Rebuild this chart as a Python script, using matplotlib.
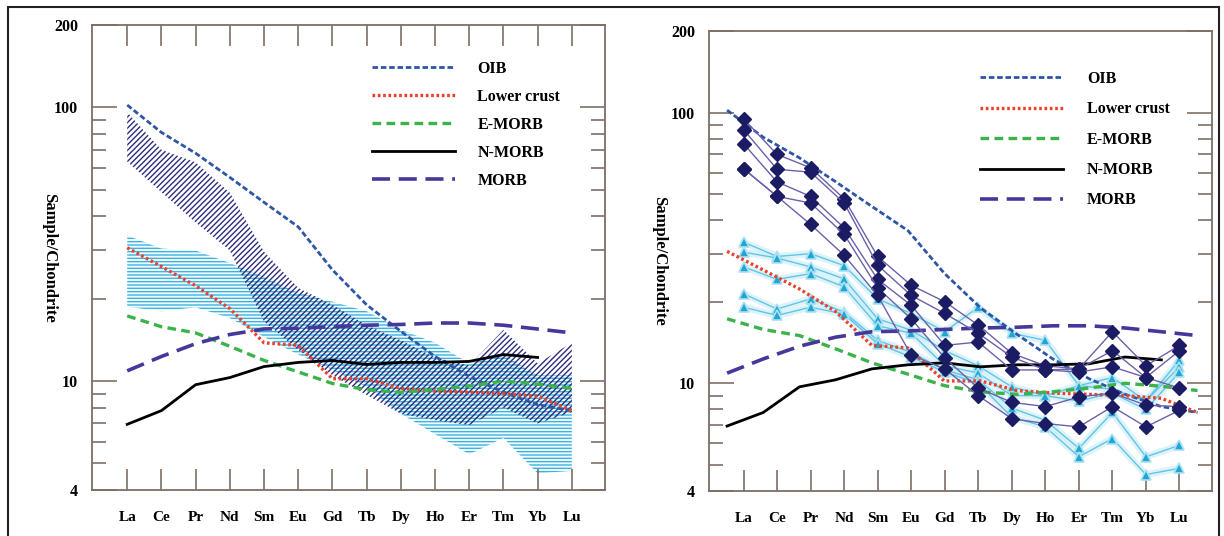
import matplotlib
matplotlib.use("Agg")
import matplotlib.pyplot as plt
from matplotlib.patches import Rectangle

plt.rcParams["font.family"] = ["Liberation Serif", "DejaVu Serif"]
plt.rcParams["font.weight"] = "bold"
plt.rcParams["hatch.linewidth"] = 1.0

elements = ["La", "Ce", "Pr", "Nd", "Sm", "Eu", "Gd", "Tb", "Dy", "Ho", "Er", "Tm", "Yb", "Lu"]

# reference patterns (chondrite normalised)
oib = [102, 81, 68, 55.5, 45, 36.6, 25.5, 19, 15.2, 12.3, 10.4, 9.1, 8.2, 7.8]
lower_crust = [30.7, 26.2, 22.3, 18.4, 13.8, 13.5, 10.2, 10.2, 9.4, 9.2, 9.1, 9.0, 8.8, 7.8]
e_morb = [17.3, 15.8, 15.0, 13.4, 11.9, 10.8, 9.8, 9.3, 9.1, 9.3, 9.6, 10.0, 9.75, 9.4]
n_morb = [6.95, 7.8, 9.7, 10.3, 11.3, 11.7, 11.9, 11.5, 11.7, 11.7, 11.8, 12.5, 12.2]  # La..Yb
morb = [10.9, 12.3, 13.7, 14.8, 15.5, 15.6, 15.8, 16.0, 16.1, 16.3, 16.3, 16.0, 15.5, 15.0]

# left panel envelopes
dark_upper = [96, 70, 63, 48.8, 29.7, 21.9, 19, 16, 14.1, 12.2, 11.4, 15.4, 11.6, 13.8]
dark_lower = [63.4, 49, 38, 30, 16.5, 13, 10.5, 8.9, 7.6, 7.2, 6.9, 8.0, 7.0, 7.7]
light_upper = [34, 30.5, 30, 27, 24, 21, 19.5, 18, 15.4, 13.8, 11.6, 12.5, 10.5, 10.5]
light_lower = [18.7, 18.0, 18.6, 17.0, 14.5, 12.5, 11, 9.5, 7.6, 6.4, 5.4, 6.2, 4.6, 4.7]

# right panel samples
dark_samples = [
    [94.8, 70, 62.5, 48, 29.4, 23, 20, 16.4, 12.9, 11.6, 11.3, 15.5, 11.6, 13.8],
    [86.5, 61.7, 60.2, 46.3, 27.3, 21.1, 18.1, 15.3, 12.5, 11.2, 11.3, 13.2, 10.5, 13.2],
    [76.7, 55.4, 49, 37.5, 24.2, 19.4, 13.8, 14.2, 11.2, 11.2, 11.0, 11.5, 10.5, 9.6],
    [62, 49, 46.3, 35.5, 22.5, 17.3, 12.4, 9.6, 8.5, 8.2, 8.9, 9.2, 8.3, 8.2],
    [62, 49, 38.6, 29.7, 21.1, 12.7, 11.3, 9.0, 7.4, 7.1, 6.9, 8.2, 6.9, 7.95],
]
light_samples = [
    [33.2, 29.4, 30.1, 27.2, 20.5, 18.1, 15.5, 19.1, 15.3, 14.4, 9.8, 10.5, 8.6, 12.2],
    [30.5, 29.0, 26.9, 24.3, 17.3, 15.7, 13.2, 11.6, 9.7, 9.0, 9.8, 9.5, 8.6, 11.5],
    [26.9, 24.2, 25.4, 22.7, 16.3, 15.3, 11.6, 10.9, 9.0, 9.0, 8.6, 9.2, 8.0, 11.0],
    [21.4, 18.8, 20.5, 18.3, 14.4, 13.0, 11.2, 10.3, 8.1, 7.3, 5.75, 7.8, 5.35, 5.9],
    [19.1, 17.8, 19.1, 18.0, 14.0, 12.5, 11.0, 10.0, 7.5, 6.9, 5.35, 6.25, 4.6, 4.85],
]

W, H = 1224, 536
fig = plt.figure(figsize=(W / 100, H / 100), dpi=100)
fig.add_artist(Rectangle((8 / W, -0.02), (1219 - 8) / W, 1.02 - 7 / H,
                         fill=False, lw=1.5, ec="#222222", transform=fig.transFigure))

ax_l = fig.add_axes([92 / W, 1 - 490 / H, (605 - 92) / W, (490 - 25) / H])
ax_r = fig.add_axes([709 / W, 1 - 491 / H, (1212 - 709) / W, (491 - 31) / H])

spine_col = "#7d6e66"
x = list(range(len(elements)))


def style_axes(ax, label_x):
    ax.set_yscale("log")
    ax.set_ylim(4, 200)
    ax.set_xlim(-1.03, 13.97)
    ax.set_xticks(x, elements, fontsize=11, fontweight="bold")
    ax.set_yticks([4, 10, 100, 200], ["4", "10", "100", "200"], fontsize=11.5, fontweight="bold")
    ax.set_yticks([5, 6, 7, 8, 9, 20, 30, 40, 50, 60, 70, 80, 90], minor=True)
    ax.set_yticklabels([], minor=True)
    ax.tick_params(axis="x", direction="in", length=15, width=1.2, color=spine_col,
                   top=True, bottom=True, pad=15)
    ax.tick_params(axis="y", which="major", direction="in", length=18, width=1.2,
                   color=spine_col, left=True, right=True, pad=10)
    ax.tick_params(axis="y", which="minor", direction="in", length=10, width=1.2,
                   color=spine_col, left=True, right=True)
    for s in ax.spines.values():
        s.set_color(spine_col)
        s.set_linewidth(1.3)
    ax.set_ylabel("Sample/Chondrite", rotation=270, fontsize=12, fontweight="bold")
    ax.yaxis.set_label_coords(label_x, 0.5)


def draw_refs(ax):
    h = []
    h += ax.plot(x, oib, color="#2f55a8", lw=2, ls=(0, (2, 1)), label="OIB")
    h += ax.plot(x, lower_crust, color="#e8412c", lw=2.4, ls=(0, (0.8, 0.8)), label="Lower crust")
    h += ax.plot(x, e_morb, color="#3cb34a", lw=2.4, ls=(0, (2.6, 1.6)), label="E-MORB")
    h += ax.plot(x[:len(n_morb)], n_morb, color="black", lw=2, label="N-MORB")
    h += ax.plot(x, morb, color="#46389a", lw=2.6, ls=(0, (5, 2.4)), label="MORB")
    return h


# ---- left panel: envelopes
style_axes(ax_l, -0.10)
ax_l.fill_between(x, light_lower, light_upper, facecolor="#f4fbfe", edgecolor="#3ab3e0",
                  hatch="-----", linewidth=0, zorder=1)
ax_l.fill_between(x, dark_lower, dark_upper, facecolor="none", edgecolor="#2c2e7c",
                  hatch="//////", linewidth=0, zorder=2)
handles = draw_refs(ax_l)
ax_l.legend(handles=handles, loc="upper left", bbox_to_anchor=(372 / W, 1 - 61 / H),
            bbox_transform=fig.transFigure, frameon=False, borderpad=0, borderaxespad=0,
            handlelength=5.2, handletextpad=1.4, labelspacing=0.75,
            prop=dict(size=11.5, weight="bold"))

# ---- right panel: individual samples
style_axes(ax_r, -0.115)
for s in light_samples:
    ax_r.plot(x, s, color="#c6ebf8", lw=5, alpha=0.6, zorder=1, solid_capstyle="round")
    ax_r.plot(x, s, color="#62c4e6", lw=1, marker="^", ms=7, mfc="#20a6d0",
              mec="#a9e0f3", mew=1.2, zorder=2)

# reference curves in the right panel are drawn slightly stretched along x
ax_ref = ax_r.twiny()
ax_ref.set_xlim(-0.5, 13.4)
ax_ref.axis("off")
handles_r = draw_refs(ax_ref)

ax_dk = ax_r.twiny()
ax_dk.set_xlim(ax_r.get_xlim())
ax_dk.axis("off")
for s in dark_samples:
    ax_dk.plot(x, s, color="#6c60aa", lw=1, marker="D", ms=7.5, mfc="#1c1c64", mec="#1c1c64")

ax_dk.legend(handles=handles_r, loc="upper left", bbox_to_anchor=(980 / W, 1 - 71 / H),
             bbox_transform=fig.transFigure, frameon=False, borderpad=0, borderaxespad=0,
             handlelength=5.2, handletextpad=1.5, labelspacing=0.9,
             prop=dict(size=11.5, weight="bold"))

fig.savefig("out.png", dpi=100)
